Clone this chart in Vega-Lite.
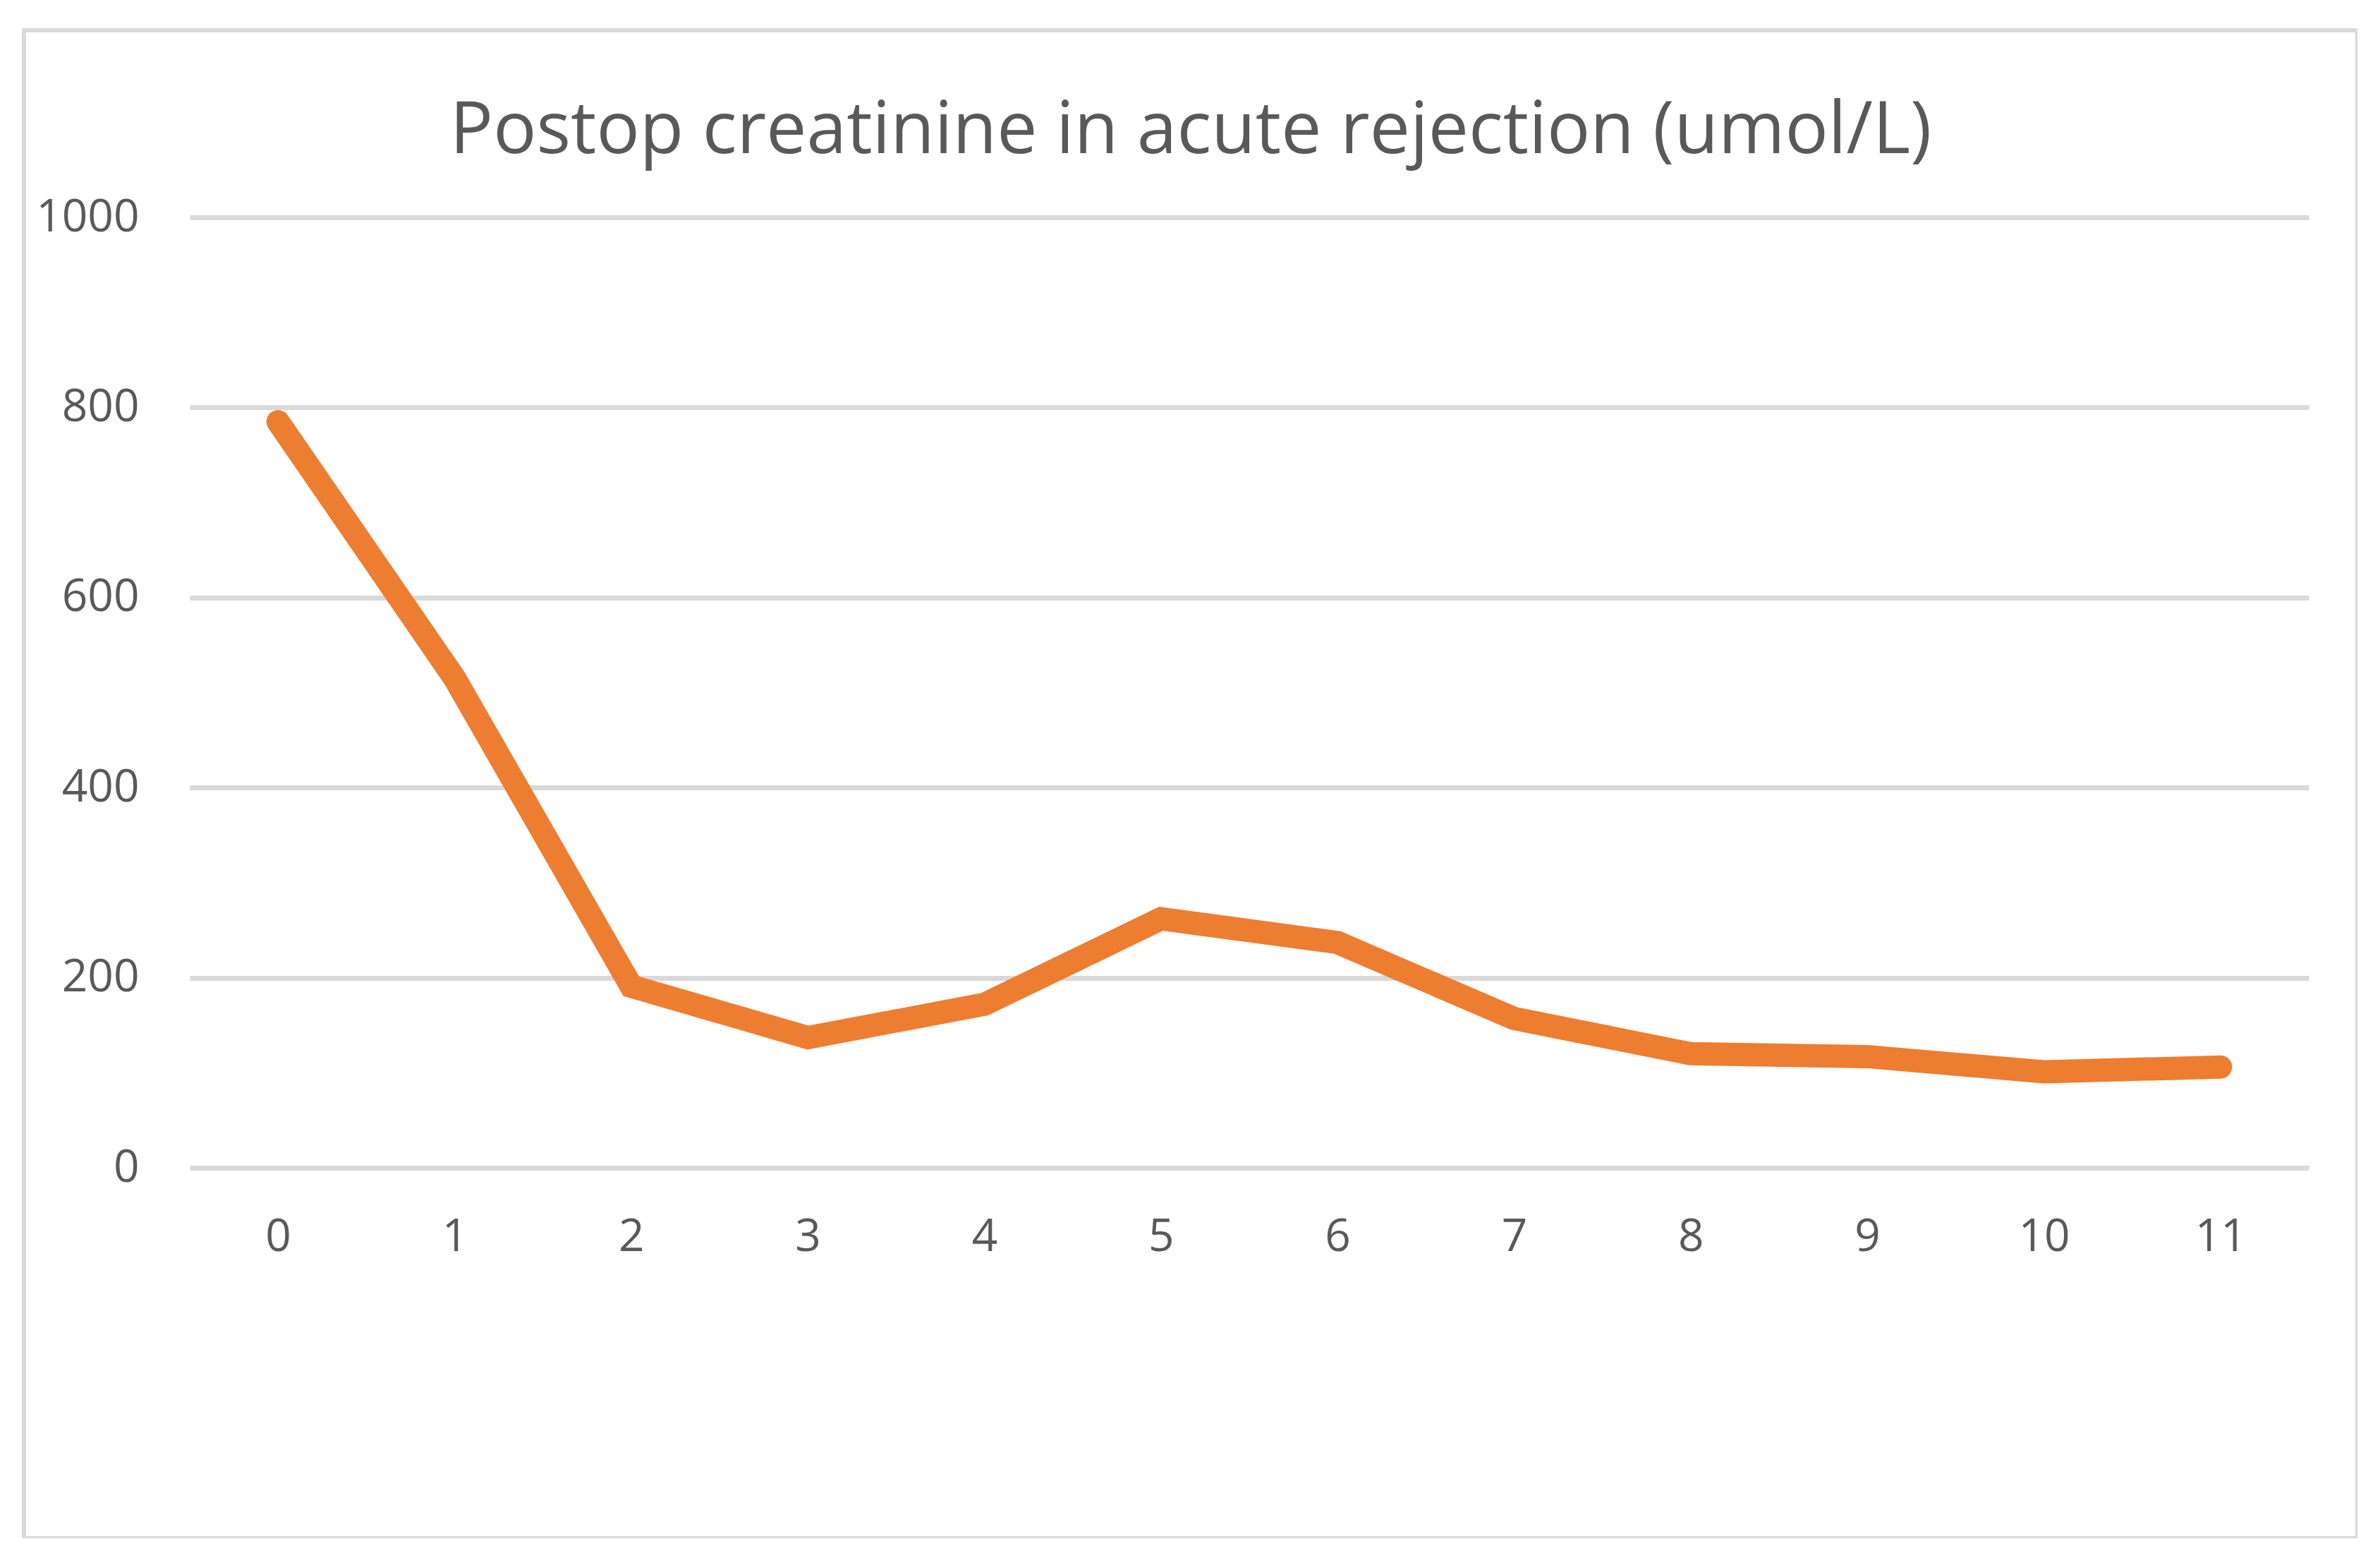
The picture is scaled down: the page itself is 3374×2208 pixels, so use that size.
{
  "$schema": "https://vega.github.io/schema/vega-lite/v6.json",
  "width": 3308,
  "height": 2137,
  "autosize": {"type": "none"},
  "padding": {"left": 34, "top": 43, "right": 0, "bottom": 0},
  "background": "white",
  "config": {
    "view": {"stroke": "#d9d9d9", "strokeWidth": 6},
    "font": "Open Sans"
  },
  "title": {
    "text": "Postop creatinine in acute rejection (umol/L)",
    "anchor": "middle",
    "frame": "group",
    "baseline": "alphabetic",
    "offset": -276,
    "fontSize": 102,
    "font": "Open Sans",
    "fontWeight": "normal",
    "color": "#595959"
  },
  "data": {
    "values": [
      {"month": "0", "creatinine": 785},
      {"month": "1", "creatinine": 515},
      {"month": "2", "creatinine": 191},
      {"month": "3", "creatinine": 137},
      {"month": "4", "creatinine": 172},
      {"month": "5", "creatinine": 262},
      {"month": "6", "creatinine": 237},
      {"month": "7", "creatinine": 157},
      {"month": "8", "creatinine": 120},
      {"month": "9", "creatinine": 117},
      {"month": "10", "creatinine": 101},
      {"month": "11", "creatinine": 106}
    ]
  },
  "mark": {"type": "line", "color": "#ED7D31", "strokeWidth": 33, "strokeCap": "round", "strokeJoin": "miter"},
  "encoding": {
    "x": {
      "field": "month",
      "type": "ordinal",
      "sort": null,
      "scale": {"type": "point", "padding": 0.5, "range": [235, 3239]},
      "axis": {
        "title": null,
        "orient": "bottom",
        "offset": -525,
        "domain": false,
        "ticks": false,
        "grid": false,
        "labelAngle": 0,
        "labelFontSize": 64,
        "labelColor": "#595959",
        "labelPadding": 66,
        "labelFont": "Open Sans"
      }
    },
    "y": {
      "field": "creatinine",
      "type": "quantitative",
      "scale": {"domain": [0, 1000], "range": [1612, 265], "nice": false, "zero": true},
      "axis": {
        "title": null,
        "offset": -235,
        "domain": false,
        "ticks": false,
        "format": "d",
        "values": [0, 200, 400, 600, 800, 1000],
        "grid": true,
        "gridColor": "#d9d9d9",
        "gridWidth": 7,
        "labelFontSize": 64,
        "labelColor": "#595959",
        "labelPadding": 72,
        "labelFont": "Open Sans"
      }
    }
  }
}
